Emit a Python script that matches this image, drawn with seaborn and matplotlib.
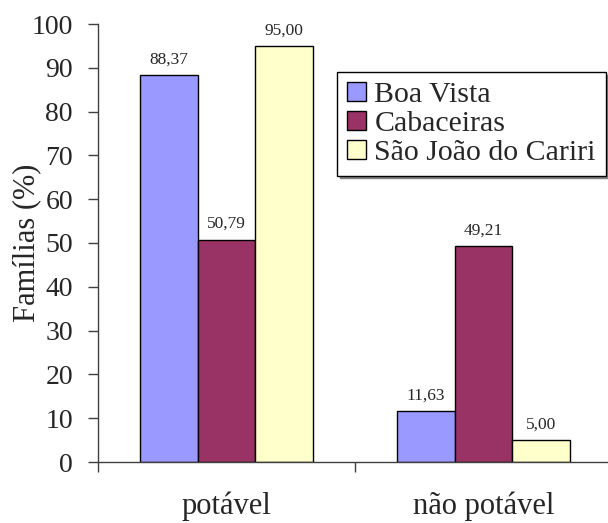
import matplotlib
matplotlib.use("Agg")
import matplotlib.pyplot as plt
import seaborn as sns
import pandas as pd

categories = ["potável", "não potável"]
series = ["Boa Vista", "Cabaceiras", "São João do Cariri"]
boa_vista = [88.37, 11.63]
cabaceiras = [50.79, 49.21]
sao_joao = [95.00, 5.00]
colors = ["#9999FF", "#993366", "#FFFFCC"]
yticks = [0, 10, 20, 30, 40, 50, 60, 70, 80, 90, 100]

rows = []
for s, vals in zip(series, [boa_vista, cabaceiras, sao_joao]):
    for c, v in zip(categories, vals):
        rows.append({"cat": c, "serie": s, "val": v})
df = pd.DataFrame(rows)

sns.set_style("white")
plt.rcParams["font.family"] = ["Liberation Serif", "DejaVu Serif"]

fig = plt.figure(figsize=(6.08, 5.23), dpi=100)
ax = fig.add_axes([98/608, (523-462)/523, 514/608, (462-24)/523])

sns.barplot(data=df, x="cat", y="val", hue="serie", order=categories,
            hue_order=series, palette=colors, width=0.67, ax=ax,
            edgecolor="black", linewidth=1, saturation=1, legend=True)

for cont in ax.containers:
    labels = [f"{b.get_height():.2f}".replace(".", ",") for b in cont]
    ax.bar_label(cont, labels=labels, padding=5.5, fontsize=12.5)

ax.set_xlim(-0.5, 1.5)
ax.set_ylim(0, 100)
ax.set_yticks(yticks)
ax.set_yticklabels([str(t) for t in yticks])
ax.set_xticks([-0.5, 0.5, 1.5])
ax.set_xticklabels([])
ax.set_xticks([0, 1], minor=True)
ax.set_xticklabels(categories, minor=True)
ax.tick_params(axis="x", which="major", direction="out", length=7, width=1, color="#404040", bottom=True)
ax.tick_params(axis="x", which="minor", length=0, pad=21, labelsize=22)
ax.tick_params(axis="y", direction="out", length=7, width=1, color="#404040", left=True, pad=11, labelsize=20)
ax.set_xlabel("")
ax.set_ylabel("Famílias (%)", fontsize=22)
ax.yaxis.set_label_coords(-0.111, 0.5)

for s in ["top", "right"]:
    ax.spines[s].set_visible(False)
for s in ["left", "bottom"]:
    ax.spines[s].set_color("#404040")
    ax.spines[s].set_linewidth(1)

ax.get_legend().remove()
handles = [plt.Rectangle((0, 0), 1, 1, facecolor=c, edgecolor="black", linewidth=1) for c in colors]
leg = fig.legend(handles, series, loc="upper left", bbox_to_anchor=(337/608, (523-72)/523),
                 bbox_transform=fig.transFigure, fontsize=21.5, frameon=True, fancybox=False,
                 edgecolor="black", framealpha=1, handlelength=0.65, handleheight=0.6,
                 handletextpad=0.27, labelspacing=0.1, borderpad=0.33, borderaxespad=0,
                 shadow={"color": "#808080", "alpha": 1})
leg.get_frame().set_linewidth(1)

fig.savefig("out.png", dpi=100)
